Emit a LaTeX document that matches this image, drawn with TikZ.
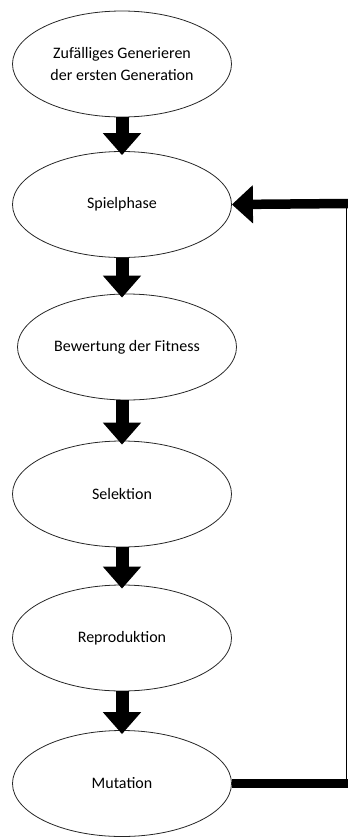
\documentclass[tikz,border=0pt]{standalone}
\usepackage{fontspec}
\setmainfont{Carlito}
\usetikzlibrary{shapes.geometric,arrows.meta}
\begin{document}
\begin{tikzpicture}[x=1pt,y=-1pt,
  phase/.style={draw=black!85, line width=0.8pt, ellipse, minimum width=219pt, minimum height=106pt, inner sep=0pt, align=center, font=\fontsize{16}{22}\selectfont},
  flow/.style={line width=13pt, -{Triangle[width=37pt,length=22pt]}, shorten >=-4pt},
  backline/.style={line width=9.5pt},
  thinline/.style={line width=1pt}]
\useasboundingbox (0,0) rectangle (348,838);
\node[phase] (e1) at (122,64) {Zufälliges Generieren\\der ersten Generation};
\node[phase] (e2) at (122,204.5) {Spielphase};
\node[phase] (e3) at (127,347) {Bewertung der Fitness};
\node[phase] (e4) at (122,494) {Selektion};
\node[phase] (e5) at (122,638) {Reproduktion};
\node[phase] (e6) at (122,783.5) {Mutation};
\draw[flow] (e1.south) -- (e2.north);
\draw[flow] (e2.south) -- (e2.south |- e3.north);
\draw[flow] (e4.north |- e3.south) -- (e4.north);
\draw[flow] (e4.south) -- (e5.north);
\draw[flow] (e5.south) -- (e6.north);
\coordinate (b1) at (348,783.5);
\coordinate (b2) at (348,203.5);
\coordinate (v1) at (346,783.5);
\coordinate (v2) at (346,203.5);
\draw[backline] (e6.east) -- (b1);
\draw[thinline] (v1) -- (v2);
\draw[backline, -{Triangle[width=37pt,length=21pt]}] (b2) -- (e2.east);
\end{tikzpicture}
\end{document}
